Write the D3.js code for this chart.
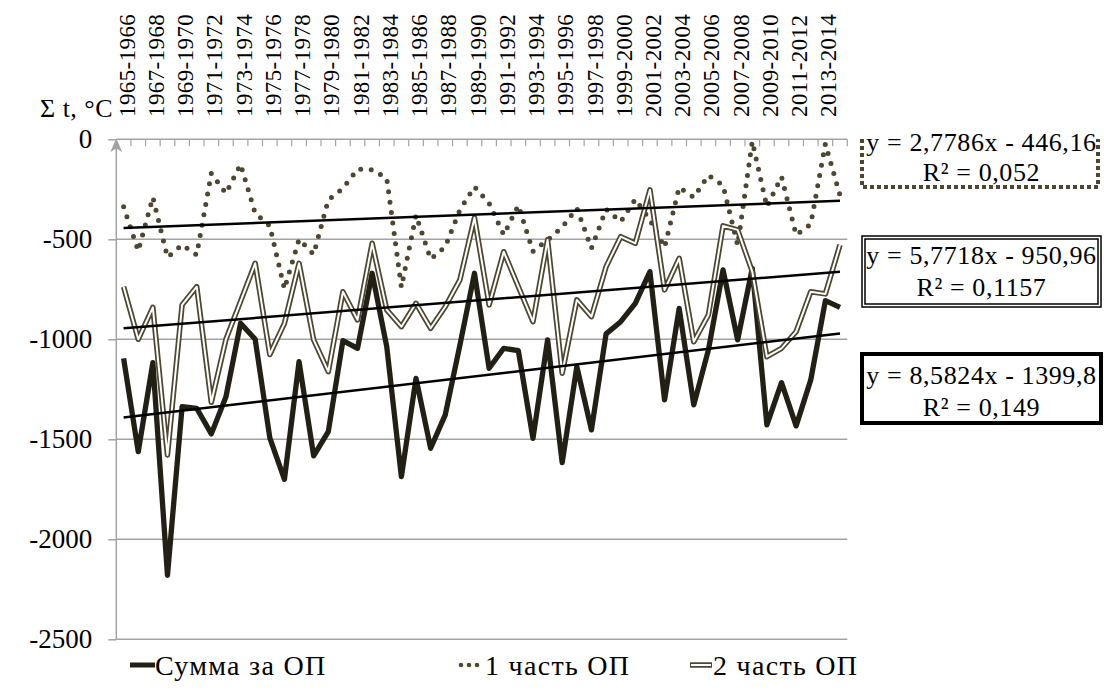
<!DOCTYPE html>
<html>
<head>
<meta charset="utf-8">
<script src="https://cdn.jsdelivr.net/npm/d3@7"></script>
<style>
  body { margin: 0; background: #fff; }
  svg text { font-family: 'Liberation Serif', 'Times New Roman', Times, 'DejaVu Serif', serif; }
</style>
</head>
<body>
<div id="chart"></div>
<script>
// seasons (x categories)
var seasons = ["1965-1966","1966-1967","1967-1968","1968-1969","1969-1970","1970-1971","1971-1972","1972-1973","1973-1974","1974-1975",
  "1975-1976","1976-1977","1977-1978","1978-1979","1979-1980","1980-1981","1981-1982","1982-1983","1983-1984","1984-1985",
  "1985-1986","1986-1987","1987-1988","1988-1989","1989-1990","1990-1991","1991-1992","1992-1993","1993-1994","1994-1995",
  "1995-1996","1996-1997","1997-1998","1998-1999","1999-2000","2000-2001","2001-2002","2002-2003","2003-2004","2004-2005",
  "2005-2006","2006-2007","2007-2008","2008-2009","2009-2010","2010-2011","2011-2012","2012-2013","2013-2014","2014-2015"];

// Сумма за ОП
var sumOP = [-1095,-1562,-1117,-2180,-1337,-1345,-1473,-1287,-920,-1000,
  -1493,-1700,-1112,-1583,-1462,-1007,-1045,-670,-1037,-1687,
  -1195,-1545,-1378,-1030,-670,-1145,-1045,-1057,-1495,-1003,
  -1617,-1137,-1453,-973,-912,-820,-662,-1303,-845,-1328,
  -1053,-653,-1003,-645,-1428,-1217,-1433,-1203,-807,-840];

// 1 часть ОП
var part1 = [-337,-558,-290,-590,-528,-578,-170,-270,-125,-370,
  -433,-748,-500,-575,-303,-245,-149,-152,-195,-740,
  -379,-599,-537,-353,-237,-320,-478,-330,-560,-503,
  -440,-345,-545,-350,-412,-300,-403,-540,-240,-290,
  -180,-230,-530,-10,-337,-187,-478,-425,-23,-280];

// 2 часть ОП
var part2 = [-737,-1000,-840,-1578,-828,-737,-1315,-1000,-810,-620,
  -1076,-920,-620,-1003,-1162,-762,-903,-520,-853,-937,
  -820,-945,-837,-703,-392,-828,-562,-737,-912,-503,
  -1170,-803,-887,-637,-487,-520,-253,-753,-595,-1012,
  -878,-433,-453,-662,-1087,-1045,-962,-762,-773,-528];

// linear trends (sum, part1, part2) as printed on the chart
var trendSlope = [8.5824, 2.7786, 5.7718];
var trendIntercept = [-1399.8, -446.16, -950.96];
var trendEq = ["y = 8,5824x - 1399,8", "y = 2,7786x - 446,16", "y = 5,7718x - 950,96"];
var trendR2 = ["R² = 0,149", "R² = 0,052", "R² = 0,1157"];

var yTicks = [0, -500, -1000, -1500, -2000, -2500];
var legendNames = ["Сумма за ОП", "1 часть ОП", "2 часть ОП"];

var width = 1104, height = 693;
var plot = {left: 116.3, right: 847.3, top: 139.3, bottom: 639.3};
var serif = "'Liberation Serif', 'Times New Roman', Times, 'DejaVu Serif', serif";

var svg = d3.select("#chart").append("svg")
    .attr("width", width)
    .attr("height", height)
    .attr("font-family", serif);

var x = d3.scaleBand()
    .domain(seasons)
    .range([plot.left, plot.right]);
var y = d3.scaleLinear()
    .domain([-2500, 0])
    .range([plot.bottom, plot.top]);

var grey = "#a3a3a3";
var dark = "#221f14";
var olive = "#4e4631";

// gridlines
svg.append("g").selectAll("line")
    .data(yTicks.filter(function(d) { return d < 0; }))
    .enter().append("line")
    .attr("x1", plot.left).attr("x2", plot.right)
    .attr("y1", function(d) { return y(d); })
    .attr("y2", function(d) { return y(d); })
    .attr("stroke", grey).attr("stroke-width", 1.5);

// y axis
var yAxis = d3.axisLeft(y).tickValues(yTicks).tickSize(8).tickPadding(16)
    .tickFormat(function(d) { return d; });
var yg = svg.append("g")
    .attr("transform", "translate(" + plot.left + ",0)")
    .call(yAxis)
    .attr("font-family", serif)
    .attr("font-size", 27);
yg.select(".domain").remove();
yg.selectAll("line").attr("stroke", grey).attr("stroke-width", 1.5);
yg.selectAll("text").attr("fill", "#000");
svg.append("line")
    .attr("x1", plot.left).attr("x2", plot.left)
    .attr("y1", plot.bottom).attr("y2", plot.top + 4)
    .attr("stroke", grey).attr("stroke-width", 1.5);
svg.append("path")
    .attr("d", "M" + plot.left + "," + (plot.top - 1) + "l-6,14l6,-4l6,4z")
    .attr("fill", grey);

// x axis on top (value 0) with tick marks between categories
svg.append("line")
    .attr("x1", plot.left).attr("x2", plot.right)
    .attr("y1", y(0)).attr("y2", y(0))
    .attr("stroke", grey).attr("stroke-width", 1.5);
svg.append("g").selectAll("line")
    .data(seasons)
    .enter().append("line")
    .attr("x1", function(d) { return x(d) + x.step(); })
    .attr("x2", function(d) { return x(d) + x.step(); })
    .attr("y1", y(0)).attr("y2", y(0) + 7)
    .attr("stroke", grey).attr("stroke-width", 1.2);

// x labels, rotated, every other season
svg.append("g").selectAll("text")
    .data(seasons.filter(function(d, i) { return i % 2 === 0; }))
    .enter().append("text")
    .attr("transform", function(d) {
        return "translate(" + (x(d) + x.bandwidth() / 2 + 3) + ",117) rotate(-90)";
    })
    .attr("dy", "0.35em")
    .attr("font-size", 23)
    .attr("letter-spacing", 0.4)
    .text(function(d) { return d; });

// unit label
svg.append("text")
    .attr("x", 40).attr("y", 117)
    .attr("font-size", 26)
    .attr("letter-spacing", 0.5)
    .text("Σ t, °C");

var line = function(vals) {
    return d3.line()
        .x(function(d, i) { return x(seasons[i]) + x.bandwidth() / 2; })
        .y(function(d) { return y(d); })(vals);
};

// Сумма за ОП
svg.append("path")
    .attr("d", line(sumOP))
    .attr("fill", "none").attr("stroke", dark)
    .attr("stroke-width", 5.3).attr("stroke-linejoin", "round");

// 1 часть ОП, round dots
svg.append("path")
    .attr("d", line(part1))
    .attr("fill", "none").attr("stroke", olive)
    .attr("stroke-width", 5).attr("stroke-linecap", "round")
    .attr("stroke-dasharray", "0 10.5");

// 2 часть ОП, double line
svg.append("path")
    .attr("d", line(part2))
    .attr("fill", "none").attr("stroke", olive)
    .attr("stroke-width", 5.5).attr("stroke-linejoin", "round");
svg.append("path")
    .attr("d", line(part2))
    .attr("fill", "none").attr("stroke", "#fff")
    .attr("stroke-width", 2).attr("stroke-linejoin", "round");

// trend lines
var n = seasons.length;
trendSlope.forEach(function(a, k) {
    var b = trendIntercept[k];
    svg.append("line")
        .attr("x1", x(seasons[0]) + x.bandwidth() / 2)
        .attr("x2", x(seasons[n - 1]) + x.bandwidth() / 2)
        .attr("y1", y(a * 1 + b))
        .attr("y2", y(a * n + b))
        .attr("stroke", "#000").attr("stroke-width", 2.5);
});

// trend equation boxes
var boxes = [
    {k: 1, top: 139, bottom: 187, line1: 142, line2: 172},
    {k: 2, top: 236, bottom: 307, line1: 255, line2: 287},
    {k: 0, top: 354, bottom: 423, line1: 375, line2: 407}
];
var bx0 = 862, bx1 = 1101;
boxes.forEach(function(bx) {
    var g = svg.append("g");
    if (bx.k === 1) {
        // top edge hidden, only sides and bottom visible
        g.append("path")
            .attr("d", "M" + bx0 + "," + bx.top + "V" + bx.bottom + "H" + (bx1 - 3) + "V" + bx.top)
            .attr("fill", "none").attr("stroke", olive)
            .attr("stroke-width", 4).attr("stroke-dasharray", "4 3");
    } else if (bx.k === 2) {
        g.append("rect")
            .attr("x", bx0).attr("y", bx.top)
            .attr("width", bx1 - bx0).attr("height", bx.bottom - bx.top)
            .attr("fill", "#fff").attr("stroke", "#000").attr("stroke-width", 1.5);
        g.append("rect")
            .attr("x", bx0 + 3).attr("y", bx.top + 3)
            .attr("width", bx1 - bx0 - 6).attr("height", bx.bottom - bx.top - 6)
            .attr("fill", "none").attr("stroke", "#000").attr("stroke-width", 1.5);
    } else {
        g.append("rect")
            .attr("x", bx0).attr("y", bx.top)
            .attr("width", bx1 - bx0).attr("height", bx.bottom - bx.top)
            .attr("fill", "#fff").attr("stroke", "#000").attr("stroke-width", 4);
    }
    var cx = (bx0 + bx1) / 2;
    g.append("text").attr("x", cx).attr("y", bx.line1).attr("dy", "0.35em")
        .attr("text-anchor", "middle").attr("font-size", 26).attr("letter-spacing", 0.6)
        .text(trendEq[bx.k]);
    g.append("text").attr("x", cx).attr("y", bx.line2).attr("dy", "0.35em")
        .attr("text-anchor", "middle").attr("font-size", 26).attr("letter-spacing", 0.6)
        .text(trendR2[bx.k]);
});

// legend
var ly = 665;
var lg = svg.append("g").attr("font-size", 28).attr("letter-spacing", 1.3);
lg.append("line").attr("x1", 130).attr("x2", 155).attr("y1", ly).attr("y2", ly)
    .attr("stroke", dark).attr("stroke-width", 5);
lg.append("text").attr("x", 155).attr("y", ly).attr("dy", "0.35em")
    .text(legendNames[0]);
lg.append("line").attr("x1", 461).attr("x2", 478).attr("y1", ly).attr("y2", ly)
    .attr("stroke", olive).attr("stroke-width", 4.6).attr("stroke-linecap", "round")
    .attr("stroke-dasharray", "0 8");
lg.append("text").attr("x", 485).attr("y", ly).attr("dy", "0.35em")
    .text(legendNames[1]);
lg.append("line").attr("x1", 690).attr("x2", 712).attr("y1", ly).attr("y2", ly)
    .attr("stroke", olive).attr("stroke-width", 5.5);
lg.append("line").attr("x1", 691).attr("x2", 711).attr("y1", ly).attr("y2", ly)
    .attr("stroke", "#fff").attr("stroke-width", 2);
lg.append("text").attr("x", 713).attr("y", ly).attr("dy", "0.35em")
    .text(legendNames[2]);
</script>
</body>
</html>
